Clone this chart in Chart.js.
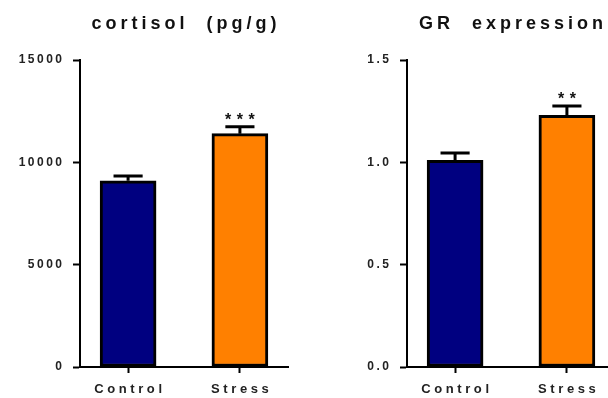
<!DOCTYPE html>
<html>
<head>
<meta charset="utf-8">
<script src="https://cdn.jsdelivr.net/npm/chart.js@4.4.1/dist/chart.umd.min.js"></script>
<style>
  html, body { margin: 0; padding: 0; background: #fff; overflow: hidden; width: 608px; height: 398px; }
  .panel { position: absolute; top: 0; width: 300px; height: 398px; }
  #left { left: 0; }
  #right { left: 327px; }
</style>
</head>
<body>
<div class="panel" id="left"><canvas id="cortisol" width="300" height="398"></canvas></div>
<div class="panel" id="right"><canvas id="gr" width="300" height="398"></canvas></div>
<script>
// Groups
const categories = ['Control', 'Stress'];
const barColors = ['#000080', '#FF8000'];

// Cortisol (pg/g): mean and SEM
const cortisolMean = [9100, 11400];
const cortisolSem = [230, 340];
const cortisolStars = ['', '***'];
const cortisolTicks = [0, 5000, 10000, 15000];

// GR expression (relative): mean and SEM
const grMean = [1.01, 1.23];
const grSem = [0.035, 0.045];
const grStars = ['', '**'];
const grTicks = [0, 0.5, 1.0, 1.5];

const FONT = '"Liberation Sans", Arial, sans-serif';

// Font sizes and the wide letter spacing that goes with each.
const SIZE_TITLE = 18, SIZE_CAT = 13, SIZE_TICK = 12, SIZE_STAR = 16;
const spacingBySize = { [SIZE_TITLE]: 4, [SIZE_CAT]: 3.6, [SIZE_TICK]: 2.5, [SIZE_STAR]: 5.5 };

const spacedText = {
  id: 'spacedText',
  beforeInit(chart) {
    const ctx = chart.ctx;
    if (ctx._spaced) return;
    ctx._spaced = true;
    const orig = ctx.fillText;
    ctx.fillText = function (text, x, y, maxWidth) {
      const m = /(\d+(?:\.\d+)?)px/.exec(this.font);
      const size = m ? parseFloat(m[1]) : 0;
      const s = spacingBySize[size] || 0;
      this.letterSpacing = s + 'px';
      let dx = 0;
      if (this.textAlign === 'center') dx = s / 2;
      else if (this.textAlign === 'right' || this.textAlign === 'end') dx = s;
      if (maxWidth === undefined) orig.call(this, text, x + dx, y);
      else orig.call(this, text, x + dx, y, maxWidth + s * String(text).length);
      this.letterSpacing = '0px';
    };
  }
};

// SEM whiskers (upper half only) and significance stars above each bar.
const whiskers = {
  id: 'whiskers',
  afterDatasetsDraw(chart, args, opts) {
    const ctx = chart.ctx;
    const yScale = chart.scales.y;
    const meta = chart.getDatasetMeta(0);
    ctx.save();
    ctx.strokeStyle = '#000';
    ctx.fillStyle = '#111';
    ctx.lineWidth = 3;
    ctx.lineCap = 'butt';
    meta.data.forEach((bar, i) => {
      const mean = opts.mean[i];
      const sem = opts.sem[i];
      const yMean = yScale.getPixelForValue(mean);
      const yTop = yScale.getPixelForValue(mean + sem);
      const half = bar.width * 0.26;
      ctx.beginPath();
      ctx.moveTo(bar.x, yMean);
      ctx.lineTo(bar.x, yTop);
      ctx.moveTo(bar.x - half, yTop);
      ctx.lineTo(bar.x + half, yTop);
      ctx.stroke();
      const stars = opts.stars[i];
      if (stars) {
        ctx.font = 'bold ' + SIZE_STAR + 'px ' + FONT;
        ctx.textAlign = 'left';
        ctx.textBaseline = 'alphabetic';
        const s = spacingBySize[SIZE_STAR];
        ctx.letterSpacing = '0px';
        const w = ctx.measureText(stars).width + s * (stars.length - 1);
        ctx.letterSpacing = s + 'px';
        ctx.fillText(stars, bar.x - w / 2, yTop - 2);
        ctx.letterSpacing = '0px';
      }
    });
    ctx.restore();
  }
};

function makeChart(canvasId, title, mean, sem, stars, ticks, fmt) {
  return new Chart(document.getElementById(canvasId), {
    type: 'bar',
    data: {
      datasets: [{
        data: categories.map((c, i) => ({ x: i, y: mean[i] })),
        backgroundColor: barColors,
        borderColor: '#000',
        borderWidth: 3,
        borderSkipped: false,
        barThickness: 56
      }]
    },
    options: {
      responsive: false,
      animation: false,
      devicePixelRatio: 1,
      layout: { padding: { left: 0, right: 12, top: 0, bottom: 0 } },
      plugins: {
        legend: { display: false },
        tooltip: { enabled: false },
        title: {
          display: true,
          text: title,
          fullSize: false,
          color: '#111',
          font: { family: FONT, size: SIZE_TITLE, weight: 'bold' },
          padding: { top: 13, bottom: 25.4 }
        },
        whiskers: { mean, sem, stars }
      },
      scales: {
        x: {
          type: 'linear',
          offset: false,
          min: -0.43,
          max: 1.43,
          afterBuildTicks(scale) { scale.ticks = categories.map((c, i) => ({ value: i })); },
          afterFit(scale) { scale.height = 31; },
          ticks: {
            color: '#222',
            padding: 9,
            font: { family: FONT, size: SIZE_CAT, weight: 'bold' },
            callback: (v) => categories[v]
          },
          grid: { offset: false, drawOnChartArea: false, drawTicks: true, tickLength: 6, tickWidth: 2, tickColor: '#000' },
          border: { display: true, color: '#000', width: 2 }
        },
        y: {
          min: ticks[0],
          max: ticks[ticks.length - 1],
          afterBuildTicks(scale) { scale.ticks = ticks.map(v => ({ value: v })); },
          afterFit(scale) { scale.width = 80; },
          ticks: {
            color: '#222',
            padding: 11,
            font: { family: FONT, size: SIZE_TICK, weight: 'bold' },
            callback: fmt
          },
          grid: { drawOnChartArea: false, drawTicks: true, tickLength: 7, tickWidth: 2, tickColor: '#000' },
          border: { display: true, color: '#000', width: 2 }
        }
      }
    },
    plugins: [spacedText, whiskers]
  });
}

makeChart('cortisol', 'cortisol  (pg/g)', cortisolMean, cortisolSem, cortisolStars, cortisolTicks, (v) => String(v));
makeChart('gr', 'GR  expression', grMean, grSem, grStars, grTicks, (v) => Number(v).toFixed(1));
</script>
</body>
</html>
